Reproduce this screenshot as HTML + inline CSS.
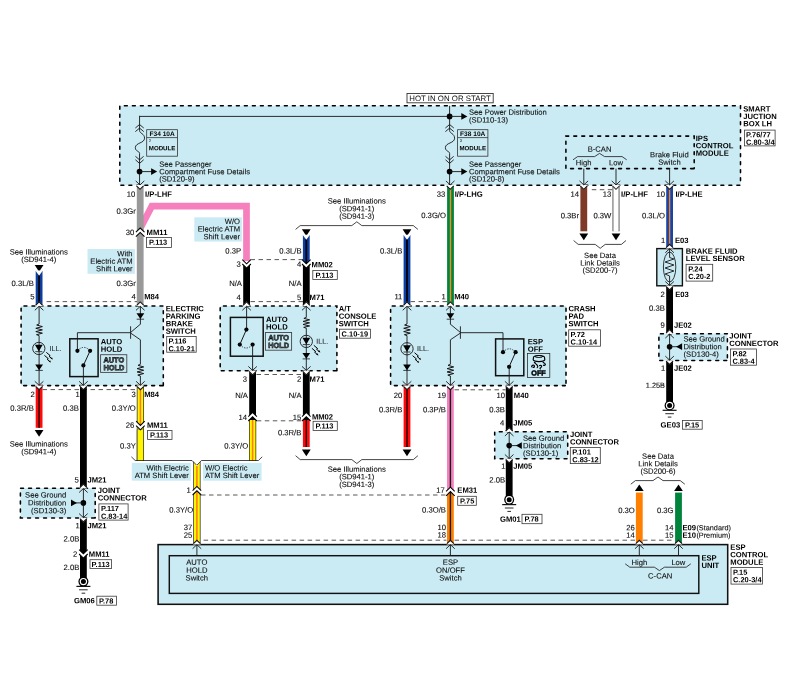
<!DOCTYPE html>
<html lang="en">
<head>
<meta charset="utf-8">
<title>ESP / Auto Hold Wiring Diagram</title>
<style>
html,body{margin:0;padding:0;background:#fff;}
body{width:789px;height:699px;overflow:hidden;}
svg{display:block;font-family:"Liberation Sans",sans-serif;font-size:7.65px;fill:#0c0c0c;will-change:transform;}
text{stroke:#111;stroke-width:.1px;}
text[font-weight]{stroke:none;}
</style>
</head>
<body>
<svg width="789" height="699" viewBox="0 0 789 699">
<rect width="789" height="699" fill="#fff"/>
<rect x="119.8" y="105.8" width="620.7" height="79.4" fill="#cbebf4"/>
<path d="M740.5 185.2H119.8V105.8H740.5Z" fill="none" stroke="#000" stroke-width="1.55" stroke-linecap="round" stroke-dasharray="2.9 5.1" stroke-dashoffset="-0.7"/>
<rect x="407" y="93.5" width="86.2" height="9.3" fill="#fff" stroke="#333" stroke-width="0.9"/>
<text x="450" y="101" transform="rotate(.03 450 101)" text-anchor="middle" font-size="7.85" style="stroke:none">HOT IN ON OR START</text>
<line x1="139.55" y1="116.4" x2="449.6" y2="116.4" stroke="#161616" stroke-width="0.9" />
<line x1="139.55" y1="115.8" x2="139.55" y2="128" stroke="#161616" stroke-width="0.9" />
<line x1="449.6" y1="105.8" x2="449.6" y2="128" stroke="#161616" stroke-width="0.9" />
<polyline points="135.35,128 139.55,124.5 143.75,128" fill="none" stroke="#161616" stroke-width="0.9" />
<polyline points="135.35,131.6 139.55,128.1 143.75,131.6" fill="none" stroke="#161616" stroke-width="0.9" />
<path d="M139.55 127.9 L139.55 130.6 C139.55 133.4 144.55 133.6 144.55 138.2 C144.55 143.4 135.35 142.6 135.35 147.6 C135.35 151.6 139.55 151 139.55 153.4 L139.55 185" fill="none" stroke="#161616" stroke-width="0.9"/>
<polyline points="135.45,156.3 139.55,159.9 143.65,156.3" fill="none" stroke="#161616" stroke-width="0.9" />
<polyline points="135.45,159.8 139.55,163.4 143.65,159.8" fill="none" stroke="#161616" stroke-width="0.9" />
<polyline points="445.4,128 449.6,124.5 453.8,128" fill="none" stroke="#161616" stroke-width="0.9" />
<polyline points="445.4,131.6 449.6,128.1 453.8,131.6" fill="none" stroke="#161616" stroke-width="0.9" />
<path d="M449.6 127.9 L449.6 130.6 C449.6 133.4 454.6 133.6 454.6 138.2 C454.6 143.4 445.4 142.6 445.4 147.6 C445.4 151.6 449.6 151 449.6 153.4 L449.6 185" fill="none" stroke="#161616" stroke-width="0.9"/>
<polyline points="445.5,156.3 449.6,159.9 453.7,156.3" fill="none" stroke="#161616" stroke-width="0.9" />
<polyline points="445.5,159.8 449.6,163.4 453.7,159.8" fill="none" stroke="#161616" stroke-width="0.9" />
<rect x="146.7" y="129.7" width="30.8" height="26.5" fill="#cbebf4" stroke="#333" stroke-width="0.8"/>
<line x1="146.7" y1="137.6" x2="177.5" y2="137.6" stroke="#333" stroke-width="0.8" />
<text x="162.1" y="136.1" transform="rotate(.03 162.1 136.1)" text-anchor="middle" font-weight="700" font-size="6.6" fill="#000">F34 10A</text>
<text x="149.1" y="141.8" transform="rotate(.03 149.1 141.8)" font-size="3.4">2</text>
<text x="162.1" y="150.3" transform="rotate(.03 162.1 150.3)" text-anchor="middle" font-weight="700" font-size="6.15" fill="#000">MODULE</text>
<rect x="457.6" y="129.7" width="30.3" height="26.5" fill="#cbebf4" stroke="#333" stroke-width="0.8"/>
<line x1="457.6" y1="137.6" x2="487.9" y2="137.6" stroke="#333" stroke-width="0.8" />
<text x="472.75" y="136.1" transform="rotate(.03 472.75 136.1)" text-anchor="middle" font-weight="700" font-size="6.6" fill="#000">F38 10A</text>
<text x="460" y="141.8" transform="rotate(.03 460 141.8)" font-size="3.4">3</text>
<text x="472.75" y="150.3" transform="rotate(.03 472.75 150.3)" text-anchor="middle" font-weight="700" font-size="6.15" fill="#000">MODULE</text>
<circle cx="449.6" cy="116.4" r="2.85" fill="#000"/>
<line x1="449.6" y1="116.4" x2="462" y2="116.4" stroke="#161616" stroke-width="0.9" />
<polygon points="461.3,113 461.3,119.8 467.4,116.4" fill="#000" stroke="none" stroke-width="0"/>
<text x="469" y="114.8" transform="rotate(.03 469 114.8)">See Power Distribution</text>
<text x="469" y="122.4" transform="rotate(.03 469 122.4)">(SD110-13)</text>
<circle cx="139.55" cy="171.6" r="2.85" fill="#000"/>
<line x1="139.55" y1="171.6" x2="152" y2="171.6" stroke="#161616" stroke-width="0.9" />
<polygon points="151.1,168.2 151.1,175 157.2,171.6" fill="#000" stroke="none" stroke-width="0"/>
<text x="159.2" y="166.8" transform="rotate(.03 159.2 166.8)">See Passenger</text>
<text x="159.2" y="174.2" transform="rotate(.03 159.2 174.2)">Compartment Fuse Details</text>
<text x="159.2" y="181.6" transform="rotate(.03 159.2 181.6)">(SD120-9)</text>
<circle cx="449.6" cy="171.6" r="2.85" fill="#000"/>
<line x1="449.6" y1="171.6" x2="462" y2="171.6" stroke="#161616" stroke-width="0.9" />
<polygon points="461.3,168.2 461.3,175 467.4,171.6" fill="#000" stroke="none" stroke-width="0"/>
<text x="469" y="166.8" transform="rotate(.03 469 166.8)">See Passenger</text>
<text x="469" y="174.2" transform="rotate(.03 469 174.2)">Compartment Fuse Details</text>
<text x="469" y="181.6" transform="rotate(.03 469 181.6)">(SD120-8)</text>
<path d="M694.2 168.6H565.9V136.1H694.2Z" fill="none" stroke="#000" stroke-width="1.55" stroke-linecap="round" stroke-dasharray="2.9 5.1" stroke-dashoffset="-0.7"/>
<text x="599.6" y="151.8" transform="rotate(.03 599.6 151.8)" text-anchor="middle">B-CAN</text>
<polyline points="573,159.8 577.6,156.6 594.6,156.6 599.6,153.4 604.6,156.6 622.1,156.6 626.7,159.8" fill="none" stroke="#161616" stroke-width="0.8" />
<text x="583.7" y="165.2" transform="rotate(.03 583.7 165.2)" text-anchor="middle">High</text>
<text x="616" y="165.2" transform="rotate(.03 616 165.2)" text-anchor="middle">Low</text>
<text x="669.4" y="157.2" transform="rotate(.03 669.4 157.2)" text-anchor="middle">Brake Fluid</text>
<text x="669.4" y="164.8" transform="rotate(.03 669.4 164.8)" text-anchor="middle">Switch</text>
<line x1="583.8" y1="168.6" x2="583.8" y2="185" stroke="#161616" stroke-width="0.9" />
<line x1="616" y1="168.6" x2="616" y2="185" stroke="#161616" stroke-width="0.9" />
<line x1="669.6" y1="168.6" x2="669.6" y2="185" stroke="#161616" stroke-width="0.9" />
<text x="695.7" y="140.9" transform="rotate(.03 695.7 140.9)" font-weight="700" fill="#000">IPS</text>
<text x="695.7" y="148.3" transform="rotate(.03 695.7 148.3)" font-weight="700" fill="#000">CONTROL</text>
<text x="695.7" y="155.7" transform="rotate(.03 695.7 155.7)" font-weight="700" fill="#000">MODULE</text>
<text x="743.2" y="111.5" transform="rotate(.03 743.2 111.5)" font-weight="700" fill="#000">SMART</text>
<text x="743.2" y="118.9" transform="rotate(.03 743.2 118.9)" font-weight="700" fill="#000">JUCTION</text>
<text x="743.2" y="126.3" transform="rotate(.03 743.2 126.3)" font-weight="700" fill="#000">BOX LH</text>
<rect x="744.4" y="130.1" width="30.7" height="15.8" fill="#fff" stroke="#3a3a3a" stroke-width="0.8"/>
<text x="746" y="137.3" transform="rotate(.03 746 137.3)" font-weight="700" font-size="7.45" fill="#000">P.76/77</text>
<text x="746" y="144.85" transform="rotate(.03 746 144.85)" font-weight="700" font-size="7.45" fill="#000">C.80-3/4</text>
<polyline points="140.2,228.5 151.8,206.1 246.5,206.1 246.5,261" fill="none" stroke="#f580bd" stroke-width="6.7" stroke-linejoin="miter"/>
<rect x="136.8" y="185.2" width="6.8" height="120.8" fill="#999999"/>
<rect x="447.1" y="185.2" width="6.8" height="120.8" fill="#00843c"/>
<rect x="449.8" y="185.2" width="1.4" height="120.8" fill="#f58a1f"/>
<rect x="580.4" y="185.2" width="6.8" height="46.1" fill="#7e3a27"/>
<rect x="612.5" y="185.2" width="7" height="46.1" fill="#4c4c4c"/>
<rect x="613.4" y="184.7" width="5.2" height="47.1" fill="#ffffff"/>
<rect x="666.2" y="185.2" width="6.8" height="63.2" fill="#1746a8"/>
<rect x="668.9" y="185.2" width="1.4" height="63.2" fill="#f5821f"/>
<line x1="591.8" y1="189.7" x2="612.8" y2="189.7" stroke="#3a3a3a" stroke-width="0.85" stroke-dasharray="4.5 3.5"/>
<text x="135.2" y="196.8" transform="rotate(.03 135.2 196.8)" text-anchor="end" font-size="7.7">10</text>
<text x="145.1" y="196.8" transform="rotate(.03 145.1 196.8)" font-weight="700" fill="#000">I/P-LHF</text>
<text x="135.8" y="213.7" transform="rotate(.03 135.8 213.7)" text-anchor="end" font-size="7.7">0.3Gr</text>
<text x="134.4" y="235" transform="rotate(.03 134.4 235)" text-anchor="end" font-size="7.7">30</text>
<text x="146.6" y="235" transform="rotate(.03 146.6 235)" font-weight="700" fill="#000">MM11</text>
<rect x="146.4" y="237.5" width="25" height="10" fill="#fff" stroke="#3a3a3a" stroke-width="0.8"/>
<text x="149.1" y="244.7" transform="rotate(.03 149.1 244.7)" font-weight="700" font-size="7.45" fill="#000">P.113</text>
<rect x="194.3" y="217.3" width="47.6" height="24.3" fill="#cbebf4"/>
<text x="240" y="224.1" transform="rotate(.03 240 224.1)" text-anchor="end">W/O</text>
<text x="240" y="231.6" transform="rotate(.03 240 231.6)" text-anchor="end">Electric ATM</text>
<text x="240" y="239.2" transform="rotate(.03 240 239.2)" text-anchor="end">Shift Lever</text>
<text x="241.2" y="253.4" transform="rotate(.03 241.2 253.4)" text-anchor="end" font-size="7.7">0.3P</text>
<text x="445.4" y="196.8" transform="rotate(.03 445.4 196.8)" text-anchor="end" font-size="7.7">33</text>
<text x="454.7" y="196.8" transform="rotate(.03 454.7 196.8)" font-weight="700" fill="#000">I/P-LHG</text>
<text x="446" y="218" transform="rotate(.03 446 218)" text-anchor="end" font-size="7.7">0.3G/O</text>
<text x="579" y="196.7" transform="rotate(.03 579 196.7)" text-anchor="end" font-size="7.7">14</text>
<text x="611.4" y="196.7" transform="rotate(.03 611.4 196.7)" text-anchor="end" font-size="7.7">13</text>
<text x="621.1" y="196.7" transform="rotate(.03 621.1 196.7)" font-weight="700" fill="#000">I/P-LHF</text>
<text x="665" y="196.7" transform="rotate(.03 665 196.7)" text-anchor="end" font-size="7.7">10</text>
<text x="675.4" y="196.7" transform="rotate(.03 675.4 196.7)" font-weight="700" fill="#000">I/P-LHE</text>
<text x="579" y="218.2" transform="rotate(.03 579 218.2)" text-anchor="end" font-size="7.7">0.3Br</text>
<text x="611.4" y="218.2" transform="rotate(.03 611.4 218.2)" text-anchor="end" font-size="7.7">0.3W</text>
<text x="665" y="218.2" transform="rotate(.03 665 218.2)" text-anchor="end" font-size="7.7">0.3L/O</text>
<polygon points="579.4,233.6 588.2,233.6 583.8,240.3" fill="#000" stroke="none" stroke-width="0"/>
<polygon points="611.6,233.6 620.4,233.6 616,240.3" fill="#000" stroke="none" stroke-width="0"/>
<polyline points="573.6,240.5 578.2,244.4 595.2,244.4 600.2,248.3 605.2,244.4 621.4,244.4 626,240.5" fill="none" stroke="#161616" stroke-width="0.8" />
<text x="600" y="258" transform="rotate(.03 600 258)" text-anchor="middle">See Data</text>
<text x="600" y="265.4" transform="rotate(.03 600 265.4)" text-anchor="middle">Link Details</text>
<text x="600" y="272.8" transform="rotate(.03 600 272.8)" text-anchor="middle">(SD200-7)</text>
<text x="38.8" y="254.6" transform="rotate(.03 38.8 254.6)" text-anchor="middle">See Illuminations</text>
<text x="38.8" y="262.1" transform="rotate(.03 38.8 262.1)" text-anchor="middle">(SD941-4)</text>
<polygon points="34.7,265.1 43.5,265.1 39.1,271.8" fill="#000" stroke="none" stroke-width="0"/>
<rect x="35.7" y="270.9" width="6.8" height="35.1" fill="#0d3fa3"/>
<rect x="38.15" y="270.9" width="1.9" height="35.1" fill="#03050f"/>
<text x="356.8" y="203.6" transform="rotate(.03 356.8 203.6)" text-anchor="middle">See Illuminations</text>
<text x="356.8" y="211.2" transform="rotate(.03 356.8 211.2)" text-anchor="middle">(SD941-1)</text>
<text x="356.8" y="218.8" transform="rotate(.03 356.8 218.8)" text-anchor="middle">(SD941-3)</text>
<polyline points="295.6,229.4 300.2,225.6 351.8,225.6 356.8,221.8 361.8,225.6 413.3,225.6 417.9,229.4" fill="none" stroke="#161616" stroke-width="0.8" />
<polygon points="301.9,229.2 310.7,229.2 306.3,235.9" fill="#000" stroke="none" stroke-width="0"/>
<rect x="302.9" y="235" width="6.8" height="29" fill="#0d3fa3"/>
<rect x="305.35" y="235" width="1.9" height="29" fill="#03050f"/>
<polygon points="402.6,229.2 411.4,229.2 407,235.9" fill="#000" stroke="none" stroke-width="0"/>
<rect x="403.6" y="235" width="6.8" height="71" fill="#0d3fa3"/>
<rect x="406.05" y="235" width="1.9" height="71" fill="#03050f"/>
<text x="33.8" y="286.1" transform="rotate(.03 33.8 286.1)" text-anchor="end" font-size="7.7">0.3L/B</text>
<text x="301.6" y="253.6" transform="rotate(.03 301.6 253.6)" text-anchor="end" font-size="7.7">0.3L/B</text>
<text x="402.3" y="253.6" transform="rotate(.03 402.3 253.6)" text-anchor="end" font-size="7.7">0.3L/B</text>
<rect x="87.5" y="249" width="47.4" height="24.8" fill="#cbebf4"/>
<text x="132.6" y="256.3" transform="rotate(.03 132.6 256.3)" text-anchor="end">With</text>
<text x="132.6" y="263.8" transform="rotate(.03 132.6 263.8)" text-anchor="end">Electric ATM</text>
<text x="132.6" y="271.3" transform="rotate(.03 132.6 271.3)" text-anchor="end">Shift Lever</text>
<text x="135.8" y="286.1" transform="rotate(.03 135.8 286.1)" text-anchor="end" font-size="7.7">0.3Gr</text>
<line x1="46.6" y1="301.6" x2="137" y2="301.6" stroke="#3a3a3a" stroke-width="0.85" stroke-dasharray="4.5 3.5"/>
<rect x="21.1" y="306" width="142.2" height="79.6" fill="#cbebf4"/>
<path d="M163.3 385.6H21.1V306H163.3Z" fill="none" stroke="#000" stroke-width="1.55" stroke-linecap="round" stroke-dasharray="2.9 5.1" stroke-dashoffset="-0.7"/>
<text x="34.6" y="299.2" transform="rotate(.03 34.6 299.2)" text-anchor="end" font-size="7.7">5</text>
<text x="135.8" y="299.2" transform="rotate(.03 135.8 299.2)" text-anchor="end" font-size="7.7">4</text>
<text x="144.2" y="299.2" transform="rotate(.03 144.2 299.2)" font-weight="700" fill="#000">M84</text>
<line x1="39.1" y1="306" x2="39.1" y2="385.6" stroke="#161616" stroke-width="0.9" />
<rect x="35.5" y="324" width="7.2" height="11.6" fill="#cbebf4"/>
<polyline points="39.1,324 36.7,325.03 42.4,326.62 35.8,328.3 42.4,329.89 35.8,331.58 42.4,333.17 36.5,334.66 39.1,335.6" fill="none" stroke="#161616" stroke-width="1.0" stroke-linejoin="miter"/>
<circle cx="38.8" cy="348.45" r="6.15" fill="none" stroke="#161616" stroke-width="0.9"/>
<polygon points="34.9,344.85 42.7,344.85 38.8,351.55" fill="#000" stroke="none" stroke-width="0"/>
<line x1="35.3" y1="351.65" x2="42.3" y2="351.65" stroke="#161616" stroke-width="0.8" />
<polyline points="46.3,352.35 50.2,355.65 49,356.25 51.5,358.35" fill="none" stroke="#000" stroke-width="1.0" />
<polygon points="52.9,359.55 50.5,358.75 52,357.35" fill="#000" stroke="none" stroke-width="0"/>
<polyline points="44.4,355.35 48.3,358.65 47.1,359.25 49.6,361.35" fill="none" stroke="#000" stroke-width="1.0" />
<polygon points="51,362.55 48.6,361.75 50.1,360.35" fill="#000" stroke="none" stroke-width="0"/>
<text x="49.5" y="350.9" transform="rotate(.03 49.5 350.9)" font-size="7.2" fill="#30383c">ILL.</text>
<polygon points="35.2,364.5 43,364.5 39.1,370.2" fill="#000" stroke="none" stroke-width="0"/>
<line x1="35.4" y1="370.4" x2="42.8" y2="370.4" stroke="#161616" stroke-width="0.8" />
<line x1="140.4" y1="306" x2="140.4" y2="324.4" stroke="#161616" stroke-width="0.9" />
<polygon points="136.5,313.3 144.3,313.3 140.4,319" fill="#000" stroke="none" stroke-width="0"/>
<line x1="136.7" y1="319.2" x2="144.1" y2="319.2" stroke="#161616" stroke-width="0.8" />
<polyline points="140.4,324.2 130.8,332.3" fill="none" stroke="#161616" stroke-width="0.9" />
<line x1="130.6" y1="326.3" x2="130.6" y2="338.8" stroke="#161616" stroke-width="0.9" />
<polyline points="130.8,333.2 140.4,339.8 140.4,385.6" fill="none" stroke="#161616" stroke-width="0.9" />
<rect x="136.8" y="364.3" width="7.2" height="11.7" fill="#cbebf4"/>
<polyline points="140.4,364.3 138,365.34 143.7,366.94 137.1,368.64 143.7,370.24 137.1,371.94 143.7,373.55 137.8,375.06 140.4,376" fill="none" stroke="#161616" stroke-width="1.0" stroke-linejoin="miter"/>
<rect x="69.8" y="338.8" width="28.3" height="37.8" fill="none" stroke="#111" stroke-width="1.5"/>
<polyline points="130.6,332.7 77.4,332.7 77.4,350.8" fill="none" stroke="#161616" stroke-width="0.9" />
<circle cx="77.4" cy="350.8" r="2.1" fill="#000"/>
<circle cx="90.1" cy="350.8" r="2.1" fill="#000"/>
<circle cx="83.4" cy="365.4" r="2.1" fill="#000"/>
<path d="M77.4 350.8 Q83.7 344 90.1 350.8" fill="none" stroke="#111" stroke-width="0.8" stroke-dasharray="1.4 1.2"/>
<line x1="83.4" y1="365.4" x2="90.1" y2="350.8" stroke="#161616" stroke-width="1" />
<line x1="83.4" y1="365.4" x2="83.4" y2="385.6" stroke="#161616" stroke-width="0.9" />
<text x="100.7" y="344.3" transform="rotate(.03 100.7 344.3)" font-weight="700" fill="#000">AUTO</text>
<text x="100.7" y="351.8" transform="rotate(.03 100.7 351.8)" font-weight="700" fill="#000">HOLD</text>
<rect x="100.6" y="354.7" width="26.2" height="17.7" fill="#cbebf4" stroke="#444" stroke-width="0.9"/>
<text x="113.8" y="362.4" transform="rotate(.03 113.8 362.4)" text-anchor="middle" font-weight="700" font-size="7.6" style="fill:#7d8a8e;stroke:#0a0a0a;stroke-width:.62px" textLength="20.8" lengthAdjust="spacingAndGlyphs">AUTO</text>
<text x="113.8" y="370.3" transform="rotate(.03 113.8 370.3)" text-anchor="middle" font-weight="700" font-size="7.6" style="fill:#7d8a8e;stroke:#0a0a0a;stroke-width:.62px" textLength="20.8" lengthAdjust="spacingAndGlyphs">HOLD</text>
<text x="165.7" y="311.2" transform="rotate(.03 165.7 311.2)" font-weight="700" fill="#000">ELECTRIC</text>
<text x="165.7" y="318.7" transform="rotate(.03 165.7 318.7)" font-weight="700" fill="#000">PARKING</text>
<text x="165.7" y="326.2" transform="rotate(.03 165.7 326.2)" font-weight="700" fill="#000">BRAKE</text>
<text x="165.7" y="333.7" transform="rotate(.03 165.7 333.7)" font-weight="700" fill="#000">SWITCH</text>
<rect x="166.7" y="336.4" width="29.5" height="15.8" fill="#fff" stroke="#3a3a3a" stroke-width="0.8"/>
<text x="168.4" y="343.6" transform="rotate(.03 168.4 343.6)" font-weight="700" font-size="7.45" fill="#000">P.116</text>
<text x="168.4" y="351.15" transform="rotate(.03 168.4 351.15)" font-weight="700" font-size="7.45" fill="#000">C.10-21</text>
<line x1="42.5" y1="389.6" x2="137" y2="389.6" stroke="#3a3a3a" stroke-width="0.85" stroke-dasharray="4.5 3.5"/>
<rect x="35.7" y="385.6" width="6.8" height="42.2" fill="#ff0a0a"/>
<rect x="38.4" y="385.6" width="1.4" height="42.2" fill="#1a0000"/>
<rect x="80" y="385.6" width="6.8" height="195" fill="#000000"/>
<rect x="136.8" y="385.6" width="7.2" height="75.4" fill="#15152a"/>
<rect x="137.45" y="385.6" width="5.9" height="75.4" fill="#fff500"/>
<rect x="139.65" y="385.6" width="1.5" height="75.4" fill="#ff7a10"/>
<text x="34.8" y="397" transform="rotate(.03 34.8 397)" text-anchor="end" font-size="7.7">2</text>
<text x="79.7" y="397" transform="rotate(.03 79.7 397)" text-anchor="end" font-size="7.7">1</text>
<text x="135.8" y="397" transform="rotate(.03 135.8 397)" text-anchor="end" font-size="7.7">3</text>
<text x="144.2" y="397" transform="rotate(.03 144.2 397)" font-weight="700" fill="#000">M84</text>
<text x="33.8" y="410.8" transform="rotate(.03 33.8 410.8)" text-anchor="end" font-size="7.7">0.3R/B</text>
<text x="78.8" y="410.8" transform="rotate(.03 78.8 410.8)" text-anchor="end" font-size="7.7">0.3B</text>
<text x="135.8" y="410.8" transform="rotate(.03 135.8 410.8)" text-anchor="end" font-size="7.7">0.3Y/O</text>
<polygon points="34.7,430 43.5,430 39.1,436.7" fill="#000" stroke="none" stroke-width="0"/>
<text x="38.8" y="446.6" transform="rotate(.03 38.8 446.6)" text-anchor="middle">See Illuminations</text>
<text x="38.8" y="454.2" transform="rotate(.03 38.8 454.2)" text-anchor="middle">(SD941-4)</text>
<rect x="136.8" y="429.5" width="7.2" height="31.5" fill="#15152a"/>
<rect x="137.45" y="429.5" width="5.9" height="31.5" fill="#fff500"/>
<text x="134.4" y="427.8" transform="rotate(.03 134.4 427.8)" text-anchor="end" font-size="7.7">26</text>
<text x="147" y="427.8" transform="rotate(.03 147 427.8)" font-weight="700" fill="#000">MM11</text>
<rect x="147.6" y="430.4" width="24.4" height="9" fill="#fff" stroke="#3a3a3a" stroke-width="0.8"/>
<text x="150" y="437.6" transform="rotate(.03 150 437.6)" font-weight="700" font-size="7.45" fill="#000">P.113</text>
<text x="135.8" y="448.4" transform="rotate(.03 135.8 448.4)" text-anchor="end" font-size="7.7">0.3Y</text>
<line x1="250.5" y1="259.6" x2="303" y2="259.6" stroke="#3a3a3a" stroke-width="0.85" stroke-dasharray="4.5 3.5"/>
<rect x="243.2" y="264" width="6.8" height="42" fill="#000000"/>
<rect x="302.9" y="264" width="6.8" height="42" fill="#000000"/>
<text x="240.8" y="266.7" transform="rotate(.03 240.8 266.7)" text-anchor="end" font-size="7.7">3</text>
<text x="301.2" y="266.7" transform="rotate(.03 301.2 266.7)" text-anchor="end" font-size="7.7">4</text>
<text x="311.6" y="267.2" transform="rotate(.03 311.6 267.2)" font-weight="700" fill="#000">MM02</text>
<rect x="312.8" y="270.5" width="24.5" height="8.9" fill="#fff" stroke="#3a3a3a" stroke-width="0.8"/>
<text x="315.4" y="277.7" transform="rotate(.03 315.4 277.7)" font-weight="700" font-size="7.45" fill="#000">P.113</text>
<text x="242" y="285.9" transform="rotate(.03 242 285.9)" text-anchor="end" font-size="7.7">N/A</text>
<text x="301.6" y="285.9" transform="rotate(.03 301.6 285.9)" text-anchor="end" font-size="7.7">N/A</text>
<text x="240.8" y="300.1" transform="rotate(.03 240.8 300.1)" text-anchor="end" font-size="7.7">4</text>
<text x="301.2" y="300.1" transform="rotate(.03 301.2 300.1)" text-anchor="end" font-size="7.7">5</text>
<text x="309.6" y="300.1" transform="rotate(.03 309.6 300.1)" font-weight="700" fill="#000">M71</text>
<line x1="250.5" y1="301.6" x2="303" y2="301.6" stroke="#3a3a3a" stroke-width="0.85" stroke-dasharray="4.5 3.5"/>
<rect x="220.2" y="306" width="116.7" height="64.7" fill="#cbebf4"/>
<path d="M336.9 370.7H220.2V306H336.9Z" fill="none" stroke="#000" stroke-width="1.55" stroke-linecap="round" stroke-dasharray="2.9 5.1" stroke-dashoffset="-0.7"/>
<rect x="230.4" y="317.4" width="32.8" height="38.8" fill="none" stroke="#111" stroke-width="1.5"/>
<line x1="246.6" y1="306" x2="246.6" y2="329.6" stroke="#161616" stroke-width="0.9" />
<circle cx="246.4" cy="329.6" r="2.1" fill="#000"/>
<circle cx="239.8" cy="344.6" r="2.1" fill="#000"/>
<circle cx="252.6" cy="344.6" r="2.1" fill="#000"/>
<line x1="246.4" y1="329.6" x2="239.8" y2="344.6" stroke="#161616" stroke-width="1" />
<path d="M239.8 344.6 Q246.2 351.4 252.6 344.6" fill="none" stroke="#111" stroke-width="0.8" stroke-dasharray="1.4 1.2"/>
<line x1="252.6" y1="344.6" x2="252.6" y2="370.7" stroke="#161616" stroke-width="0.9" />
<text x="266.1" y="322" transform="rotate(.03 266.1 322)" font-weight="700" fill="#000">AUTO</text>
<text x="266.1" y="329.5" transform="rotate(.03 266.1 329.5)" font-weight="700" fill="#000">HOLD</text>
<rect x="265.4" y="332.5" width="26.2" height="17.7" fill="#cbebf4" stroke="#444" stroke-width="0.9"/>
<text x="278.6" y="340.2" transform="rotate(.03 278.6 340.2)" text-anchor="middle" font-weight="700" font-size="7.6" style="fill:#7d8a8e;stroke:#0a0a0a;stroke-width:.62px" textLength="20.8" lengthAdjust="spacingAndGlyphs">AUTO</text>
<text x="278.6" y="348.1" transform="rotate(.03 278.6 348.1)" text-anchor="middle" font-weight="700" font-size="7.6" style="fill:#7d8a8e;stroke:#0a0a0a;stroke-width:.62px" textLength="20.8" lengthAdjust="spacingAndGlyphs">HOLD</text>
<line x1="306.3" y1="306" x2="306.3" y2="370.7" stroke="#161616" stroke-width="0.9" />
<rect x="302.7" y="317.4" width="7.2" height="10.8" fill="#cbebf4"/>
<polyline points="306.3,317.4 303.9,318.36 309.6,319.84 303,321.41 309.6,322.89 303,324.45 309.6,325.94 303.7,327.33 306.3,328.2" fill="none" stroke="#161616" stroke-width="1.0" stroke-linejoin="miter"/>
<circle cx="306.3" cy="341.4" r="6.15" fill="none" stroke="#161616" stroke-width="0.9"/>
<polygon points="302.4,337.8 310.2,337.8 306.3,344.5" fill="#000" stroke="none" stroke-width="0"/>
<line x1="302.8" y1="344.6" x2="309.8" y2="344.6" stroke="#161616" stroke-width="0.8" />
<polyline points="313.8,345.3 317.7,348.6 316.5,349.2 319,351.3" fill="none" stroke="#000" stroke-width="1.0" />
<polygon points="320.4,352.5 318,351.7 319.5,350.3" fill="#000" stroke="none" stroke-width="0"/>
<polyline points="311.9,348.3 315.8,351.6 314.6,352.2 317.1,354.3" fill="none" stroke="#000" stroke-width="1.0" />
<polygon points="318.5,355.5 316.1,354.7 317.6,353.3" fill="#000" stroke="none" stroke-width="0"/>
<text x="316.2" y="343.7" transform="rotate(.03 316.2 343.7)" font-size="7.2" fill="#30383c">ILL.</text>
<polygon points="302.4,353 310.2,353 306.3,358.7" fill="#000" stroke="none" stroke-width="0"/>
<line x1="302.6" y1="358.9" x2="310" y2="358.9" stroke="#161616" stroke-width="0.8" />
<text x="338.7" y="311.2" transform="rotate(.03 338.7 311.2)" font-weight="700" fill="#000">A/T</text>
<text x="338.7" y="318.8" transform="rotate(.03 338.7 318.8)" font-weight="700" fill="#000">CONSOLE</text>
<text x="338.7" y="326.3" transform="rotate(.03 338.7 326.3)" font-weight="700" fill="#000">SWITCH</text>
<rect x="339.4" y="329.2" width="31" height="9" fill="#fff" stroke="#3a3a3a" stroke-width="0.8"/>
<text x="341.6" y="336.4" transform="rotate(.03 341.6 336.4)" font-weight="700" font-size="7.45" fill="#000">C.10-19</text>
<line x1="256.5" y1="374.5" x2="303" y2="374.5" stroke="#3a3a3a" stroke-width="0.85" stroke-dasharray="4.5 3.5"/>
<rect x="249.2" y="370.7" width="6.8" height="49.9" fill="#000000"/>
<rect x="302.9" y="370.7" width="6.8" height="49.9" fill="#000000"/>
<text x="247" y="381.7" transform="rotate(.03 247 381.7)" text-anchor="end" font-size="7.7">3</text>
<text x="301.2" y="381.7" transform="rotate(.03 301.2 381.7)" text-anchor="end" font-size="7.7">2</text>
<text x="309.6" y="381.7" transform="rotate(.03 309.6 381.7)" font-weight="700" fill="#000">M71</text>
<text x="248" y="398" transform="rotate(.03 248 398)" text-anchor="end" font-size="7.7">N/A</text>
<text x="301.6" y="398" transform="rotate(.03 301.6 398)" text-anchor="end" font-size="7.7">N/A</text>
<line x1="256.8" y1="420.8" x2="303" y2="420.8" stroke="#3a3a3a" stroke-width="0.85" stroke-dasharray="4.5 3.5"/>
<rect x="249" y="420" width="7.2" height="41" fill="#15152a"/>
<rect x="249.65" y="420" width="5.9" height="41" fill="#fff500"/>
<rect x="251.85" y="420" width="1.5" height="41" fill="#ff7a10"/>
<rect x="302.9" y="420" width="6.8" height="27" fill="#ff0a0a"/>
<rect x="305.6" y="420" width="1.4" height="27" fill="#1a0000"/>
<text x="247" y="420" transform="rotate(.03 247 420)" text-anchor="end" font-size="7.7">14</text>
<text x="301.2" y="420" transform="rotate(.03 301.2 420)" text-anchor="end" font-size="7.7">15</text>
<text x="311.9" y="419.4" transform="rotate(.03 311.9 419.4)" font-weight="700" fill="#000">MM02</text>
<rect x="313.1" y="421.3" width="24.2" height="9.2" fill="#fff" stroke="#3a3a3a" stroke-width="0.8"/>
<text x="315.4" y="428.5" transform="rotate(.03 315.4 428.5)" font-weight="700" font-size="7.45" fill="#000">P.113</text>
<text x="248.2" y="448.4" transform="rotate(.03 248.2 448.4)" text-anchor="end" font-size="7.7">0.3Y/O</text>
<text x="301.4" y="435.2" transform="rotate(.03 301.4 435.2)" text-anchor="end" font-size="7.7">0.3R/B</text>
<polygon points="301.9,449.5 310.7,449.5 306.3,456.2" fill="#000" stroke="none" stroke-width="0"/>
<line x1="410.5" y1="301.6" x2="447" y2="301.6" stroke="#3a3a3a" stroke-width="0.85" stroke-dasharray="4.5 3.5"/>
<rect x="390.6" y="306" width="175.4" height="79.6" fill="#cbebf4"/>
<path d="M566 385.6H390.6V306H566Z" fill="none" stroke="#000" stroke-width="1.55" stroke-linecap="round" stroke-dasharray="2.9 5.1" stroke-dashoffset="-0.7"/>
<text x="402.4" y="299.2" transform="rotate(.03 402.4 299.2)" text-anchor="end" font-size="7.7">11</text>
<text x="445.7" y="299.2" transform="rotate(.03 445.7 299.2)" text-anchor="end" font-size="7.7">1</text>
<text x="454.2" y="299.2" transform="rotate(.03 454.2 299.2)" font-weight="700" fill="#000">M40</text>
<line x1="407" y1="306" x2="407" y2="385.6" stroke="#161616" stroke-width="0.9" />
<rect x="403.4" y="324" width="7.2" height="11.6" fill="#cbebf4"/>
<polyline points="407,324 404.6,325.03 410.3,326.62 403.7,328.3 410.3,329.89 403.7,331.58 410.3,333.17 404.4,334.66 407,335.6" fill="none" stroke="#161616" stroke-width="1.0" stroke-linejoin="miter"/>
<circle cx="407" cy="348.8" r="6.15" fill="none" stroke="#161616" stroke-width="0.9"/>
<polygon points="403.1,345.2 410.9,345.2 407,351.9" fill="#000" stroke="none" stroke-width="0"/>
<line x1="403.5" y1="352" x2="410.5" y2="352" stroke="#161616" stroke-width="0.8" />
<polyline points="414.5,352.7 418.4,356 417.2,356.6 419.7,358.7" fill="none" stroke="#000" stroke-width="1.0" />
<polygon points="421.1,359.9 418.7,359.1 420.2,357.7" fill="#000" stroke="none" stroke-width="0"/>
<polyline points="412.6,355.7 416.5,359 415.3,359.6 417.8,361.7" fill="none" stroke="#000" stroke-width="1.0" />
<polygon points="419.2,362.9 416.8,362.1 418.3,360.7" fill="#000" stroke="none" stroke-width="0"/>
<text x="416.9" y="351" transform="rotate(.03 416.9 351)" font-size="7.2" fill="#30383c">ILL.</text>
<polygon points="403.1,364.5 410.9,364.5 407,370.2" fill="#000" stroke="none" stroke-width="0"/>
<line x1="403.3" y1="370.4" x2="410.7" y2="370.4" stroke="#161616" stroke-width="0.8" />
<line x1="450.4" y1="306" x2="450.4" y2="324.4" stroke="#161616" stroke-width="0.9" />
<polygon points="446.5,313.3 454.3,313.3 450.4,319" fill="#000" stroke="none" stroke-width="0"/>
<line x1="446.7" y1="319.2" x2="454.1" y2="319.2" stroke="#161616" stroke-width="0.8" />
<polyline points="450.4,324.2 460.2,332.3" fill="none" stroke="#161616" stroke-width="0.9" />
<line x1="460.4" y1="326.3" x2="460.4" y2="338.8" stroke="#161616" stroke-width="0.9" />
<polyline points="460.2,333.2 450.4,339.8 450.4,385.6" fill="none" stroke="#161616" stroke-width="0.9" />
<rect x="446.79999999999995" y="364.3" width="7.2" height="11.7" fill="#cbebf4"/>
<polyline points="450.4,364.3 448,365.34 453.7,366.94 447.1,368.64 453.7,370.24 447.1,371.94 453.7,373.55 447.8,375.06 450.4,376" fill="none" stroke="#161616" stroke-width="1.0" stroke-linejoin="miter"/>
<rect x="495.6" y="338.9" width="28.2" height="36.8" fill="none" stroke="#111" stroke-width="1.5"/>
<polyline points="460.4,332.7 503,332.7 503,352.2" fill="none" stroke="#161616" stroke-width="0.9" />
<circle cx="503" cy="352.2" r="2.1" fill="#000"/>
<circle cx="515.6" cy="352.2" r="2.1" fill="#000"/>
<circle cx="509.1" cy="366.8" r="2.1" fill="#000"/>
<path d="M503 352.2 Q509.3 345.4 515.6 352.2" fill="none" stroke="#111" stroke-width="0.8" stroke-dasharray="1.4 1.2"/>
<line x1="509.1" y1="366.8" x2="515.6" y2="352.2" stroke="#161616" stroke-width="1" />
<line x1="509.2" y1="366.8" x2="509.2" y2="385.6" stroke="#161616" stroke-width="0.9" />
<text x="527.7" y="344.2" transform="rotate(.03 527.7 344.2)" font-weight="700" fill="#000">ESP</text>
<text x="527.7" y="351.7" transform="rotate(.03 527.7 351.7)" font-weight="700" fill="#000">OFF</text>
<rect x="527.5" y="353.4" width="22.3" height="24" fill="#cbebf4" stroke="#222" stroke-width="0.75"/>
<g fill="none" stroke="#000" stroke-width="1.15" stroke-linecap="round"><path d="M533.5 357.4 C533.3 354.9 544.7 354.9 544.5 357.4 L544.8 359.6 C544.6 362.2 533.4 362.2 533.2 359.6 Z"/><ellipse cx="539" cy="356.5" rx="4" ry="1.05" stroke-width="0.8"/><path d="M534.4 362.4 L536.2 364.2 C537.6 365.4 538.4 366.6 537.2 367.6 M531.6 366.8 C531.8 364.6 534.8 364.6 534.4 366.6 C534.2 367.6 533.2 367.8 533 367 M543.4 362.4 L544.6 363.4 C546.2 364.4 545 366 543.4 365.2 M539.6 365.6 C541.6 364.8 542.4 366.6 540.8 367.6 C540 368 539.6 368.6 540.4 369"/></g>
<polygon points="533.8,362 535.6,362 534.6,363.6" fill="#000" stroke="none" stroke-width="0"/>
<polygon points="542.4,362 544.2,362 543.4,363.6" fill="#000" stroke="none" stroke-width="0"/>
<text x="538.5" y="375.4" transform="rotate(.03 538.5 375.4)" text-anchor="middle" font-weight="700" font-size="7.3" style="fill:#000;stroke:#000;stroke-width:.45px">OFF</text>
<text x="568.4" y="311.2" transform="rotate(.03 568.4 311.2)" font-weight="700" fill="#000">CRASH</text>
<text x="568.4" y="318.8" transform="rotate(.03 568.4 318.8)" font-weight="700" fill="#000">PAD</text>
<text x="568.4" y="326.3" transform="rotate(.03 568.4 326.3)" font-weight="700" fill="#000">SWITCH</text>
<rect x="568.7" y="329.8" width="31.8" height="16.4" fill="#fff" stroke="#3a3a3a" stroke-width="0.8"/>
<text x="570.6" y="337" transform="rotate(.03 570.6 337)" font-weight="700" font-size="7.45" fill="#000">P.72</text>
<text x="570.6" y="344.55" transform="rotate(.03 570.6 344.55)" font-weight="700" font-size="7.45" fill="#000">C.10-14</text>
<line x1="454.5" y1="389.8" x2="505.5" y2="389.8" stroke="#3a3a3a" stroke-width="0.85" stroke-dasharray="4.5 3.5"/>
<rect x="403.6" y="385.6" width="6.8" height="61.4" fill="#ff0a0a"/>
<rect x="406.3" y="385.6" width="1.4" height="61.4" fill="#1a0000"/>
<rect x="447" y="385.6" width="6.8" height="105.4" fill="#f580bd"/>
<rect x="449.7" y="385.6" width="1.4" height="105.4" fill="#1a1a1a"/>
<rect x="505.8" y="385.6" width="6.8" height="113.2" fill="#000000"/>
<text x="402.4" y="398" transform="rotate(.03 402.4 398)" text-anchor="end" font-size="7.7">20</text>
<text x="446" y="398" transform="rotate(.03 446 398)" text-anchor="end" font-size="7.7">19</text>
<text x="505" y="398" transform="rotate(.03 505 398)" text-anchor="end" font-size="7.7">10</text>
<text x="513.8" y="398" transform="rotate(.03 513.8 398)" font-weight="700" fill="#000">M40</text>
<text x="402.4" y="412.2" transform="rotate(.03 402.4 412.2)" text-anchor="end" font-size="7.7">0.3R/B</text>
<text x="446" y="412.2" transform="rotate(.03 446 412.2)" text-anchor="end" font-size="7.7">0.3P/B</text>
<text x="505" y="412.2" transform="rotate(.03 505 412.2)" text-anchor="end" font-size="7.7">0.3B</text>
<polygon points="402.6,449.5 411.4,449.5 407,456.2" fill="#000" stroke="none" stroke-width="0"/>
<polyline points="295.6,455.7 300.2,459.6 351.8,459.6 356.8,463.5 361.8,459.6 413.3,459.6 417.9,455.7" fill="none" stroke="#161616" stroke-width="0.8" />
<text x="356.8" y="471.7" transform="rotate(.03 356.8 471.7)" text-anchor="middle">See Illuminations</text>
<text x="356.8" y="479.3" transform="rotate(.03 356.8 479.3)" text-anchor="middle">(SD941-1)</text>
<text x="356.8" y="486.9" transform="rotate(.03 356.8 486.9)" text-anchor="middle">(SD941-3)</text>
<line x1="201" y1="495" x2="446.5" y2="495" stroke="#3a3a3a" stroke-width="0.85" stroke-dasharray="4.5 3.5"/>
<rect x="447" y="491" width="6.8" height="53.5" fill="#ff7f00"/>
<rect x="449.7" y="491" width="1.4" height="53.5" fill="#1a1a1a"/>
<text x="444.8" y="492.8" transform="rotate(.03 444.8 492.8)" text-anchor="end" font-size="7.7">17</text>
<text x="457.3" y="492.8" transform="rotate(.03 457.3 492.8)" font-weight="700" fill="#000">EM31</text>
<rect x="457.7" y="496.3" width="18.6" height="9" fill="#fff" stroke="#3a3a3a" stroke-width="0.8"/>
<text x="460" y="503.5" transform="rotate(.03 460 503.5)" font-weight="700" font-size="7.45" fill="#000">P.75</text>
<text x="446" y="512.4" transform="rotate(.03 446 512.4)" text-anchor="end" font-size="7.7">0.3O/B</text>
<text x="446" y="530" transform="rotate(.03 446 530)" text-anchor="end" font-size="7.7">10</text>
<text x="446" y="537.6" transform="rotate(.03 446 537.6)" text-anchor="end" font-size="7.7">18</text>
<text x="504.2" y="425.6" transform="rotate(.03 504.2 425.6)" text-anchor="end" font-size="7.7">4</text>
<text x="513.2" y="425.6" transform="rotate(.03 513.2 425.6)" font-weight="700" fill="#000">JM05</text>
<rect x="494.7" y="431.7" width="73" height="27.1" fill="#cbebf4"/>
<path d="M567.7 458.8H494.7V431.7H567.7Z" fill="none" stroke="#000" stroke-width="1.55" stroke-linecap="round" stroke-dasharray="2.9 5.1" stroke-dashoffset="-0.7"/>
<line x1="509.2" y1="431.7" x2="509.2" y2="458.8" stroke="#161616" stroke-width="0.9" />
<circle cx="509.2" cy="445.6" r="2.8" fill="#000"/>
<line x1="509.2" y1="445.6" x2="518" y2="445.6" stroke="#161616" stroke-width="0.9" />
<polygon points="521.8,442.2 521.8,449 515.9,445.6" fill="#000" stroke="none" stroke-width="0"/>
<text x="523" y="440.7" transform="rotate(.03 523 440.7)">See Ground</text>
<text x="523" y="448.3" transform="rotate(.03 523 448.3)">Distribution</text>
<text x="523" y="455.8" transform="rotate(.03 523 455.8)">(SD130-1)</text>
<text x="569.9" y="437" transform="rotate(.03 569.9 437)" font-weight="700" fill="#000">JOINT</text>
<text x="569.9" y="444.4" transform="rotate(.03 569.9 444.4)" font-weight="700" fill="#000">CONNECTOR</text>
<rect x="570.3" y="447.4" width="30" height="16.2" fill="#fff" stroke="#3a3a3a" stroke-width="0.8"/>
<text x="572.3" y="454.6" transform="rotate(.03 572.3 454.6)" font-weight="700" font-size="7.45" fill="#000">P.101</text>
<text x="572.3" y="462.15" transform="rotate(.03 572.3 462.15)" font-weight="700" font-size="7.45" fill="#000">C.83-12</text>
<text x="505.5" y="468.8" transform="rotate(.03 505.5 468.8)" text-anchor="end" font-size="7.7">1</text>
<text x="513.2" y="468.8" transform="rotate(.03 513.2 468.8)" font-weight="700" fill="#000">JM05</text>
<text x="505.2" y="482.5" transform="rotate(.03 505.2 482.5)" text-anchor="end" font-size="7.7">2.0B</text>
<circle cx="509.2" cy="499.8" r="5" fill="#000"/>
<circle cx="509.2" cy="499.8" r="3.7" fill="#fff"/>
<circle cx="509.2" cy="499.8" r="2.5" fill="#000"/>
<line x1="502.2" y1="504.6" x2="516.2" y2="504.6" stroke="#111" stroke-width="1.2" />
<line x1="504.9" y1="508" x2="513.5" y2="508" stroke="#111" stroke-width="0.9" />
<line x1="507.4" y1="511.4" x2="511" y2="511.4" stroke="#111" stroke-width="0.9" />
<text x="500" y="521.8" transform="rotate(.03 500 521.8)" font-weight="700" fill="#000">GM01</text>
<rect x="522" y="514.3" width="20" height="9.4" fill="#fff" stroke="#3a3a3a" stroke-width="0.8"/>
<text x="524.4" y="521.5" transform="rotate(.03 524.4 521.5)" font-weight="700" font-size="7.45" fill="#000">P.78</text>
<text x="665.3" y="242.9" transform="rotate(.03 665.3 242.9)" text-anchor="end" font-size="7.7">1</text>
<text x="674.9" y="242.9" transform="rotate(.03 674.9 242.9)" font-weight="700" fill="#000">E03</text>
<rect x="656.8" y="248.6" width="25.6" height="37.2" fill="#cbebf4" stroke="#111" stroke-width="1.4"/>
<ellipse cx="669.6" cy="267" rx="6.2" ry="15" fill="none" stroke="#161616" stroke-width="0.85"/>
<polyline points="669.6,248.6 669.6,257.5 673.9,259 665.1,262 673.9,265 665.1,268 673.9,271 665.1,274 669.6,276 669.6,285.6" fill="none" stroke="#161616" stroke-width="0.9" />
<text x="685.8" y="253.7" transform="rotate(.03 685.8 253.7)" font-weight="700" fill="#000">BRAKE FLUID</text>
<text x="685.8" y="261.1" transform="rotate(.03 685.8 261.1)" font-weight="700" fill="#000">LEVEL SENSOR</text>
<rect x="686.1" y="264.3" width="26.6" height="16.8" fill="#fff" stroke="#3a3a3a" stroke-width="0.8"/>
<text x="688.2" y="271.5" transform="rotate(.03 688.2 271.5)" font-weight="700" font-size="7.45" fill="#000">P.24</text>
<text x="688.2" y="279.05" transform="rotate(.03 688.2 279.05)" font-weight="700" font-size="7.45" fill="#000">C.20-2</text>
<rect x="666.2" y="285.8" width="6.8" height="118.7" fill="#000000"/>
<text x="664.8" y="297" transform="rotate(.03 664.8 297)" text-anchor="end" font-size="7.7">2</text>
<text x="675.2" y="297" transform="rotate(.03 675.2 297)" font-weight="700" fill="#000">E03</text>
<text x="664.8" y="310.8" transform="rotate(.03 664.8 310.8)" text-anchor="end" font-size="7.7">0.3B</text>
<text x="664.8" y="327.7" transform="rotate(.03 664.8 327.7)" text-anchor="end" font-size="7.7">9</text>
<text x="674" y="327.7" transform="rotate(.03 674 327.7)" font-weight="700" fill="#000">JE02</text>
<rect x="658.9" y="333.8" width="68.5" height="26.6" fill="#cbebf4"/>
<path d="M727.4 360.4H658.9V333.8H727.4Z" fill="none" stroke="#000" stroke-width="1.55" stroke-linecap="round" stroke-dasharray="2.9 5.1" stroke-dashoffset="-0.7"/>
<line x1="669.6" y1="333.8" x2="669.6" y2="360.4" stroke="#161616" stroke-width="0.9" />
<circle cx="669.6" cy="346.7" r="2.8" fill="#000"/>
<line x1="669.6" y1="346.7" x2="678" y2="346.7" stroke="#161616" stroke-width="0.9" />
<polygon points="682.1,343.3 682.1,350.1 676.2,346.7" fill="#000" stroke="none" stroke-width="0"/>
<text x="683.5" y="341.6" transform="rotate(.03 683.5 341.6)">See Ground</text>
<text x="683.5" y="349.2" transform="rotate(.03 683.5 349.2)">Distribution</text>
<text x="683.5" y="356.7" transform="rotate(.03 683.5 356.7)">(SD130-4)</text>
<text x="729.3" y="338.6" transform="rotate(.03 729.3 338.6)" font-weight="700" fill="#000">JOINT</text>
<text x="729.3" y="346" transform="rotate(.03 729.3 346)" font-weight="700" fill="#000">CONNECTOR</text>
<rect x="730.4" y="349" width="26" height="16.2" fill="#fff" stroke="#3a3a3a" stroke-width="0.8"/>
<text x="732.4" y="356.2" transform="rotate(.03 732.4 356.2)" font-weight="700" font-size="7.45" fill="#000">P.82</text>
<text x="732.4" y="363.75" transform="rotate(.03 732.4 363.75)" font-weight="700" font-size="7.45" fill="#000">C.83-4</text>
<text x="665.3" y="370.7" transform="rotate(.03 665.3 370.7)" text-anchor="end" font-size="7.7">1</text>
<text x="674" y="370.7" transform="rotate(.03 674 370.7)" font-weight="700" fill="#000">JE02</text>
<text x="665" y="387.8" transform="rotate(.03 665 387.8)" text-anchor="end" font-size="7.35">1.25B</text>
<circle cx="669.6" cy="405.5" r="5" fill="#000"/>
<circle cx="669.6" cy="405.5" r="3.7" fill="#fff"/>
<circle cx="669.6" cy="405.5" r="2.5" fill="#000"/>
<line x1="662.6" y1="410.3" x2="676.6" y2="410.3" stroke="#111" stroke-width="1.2" />
<line x1="665.3" y1="413.7" x2="673.9" y2="413.7" stroke="#111" stroke-width="0.9" />
<line x1="667.8" y1="417.1" x2="671.4" y2="417.1" stroke="#111" stroke-width="0.9" />
<text x="660.6" y="427.4" transform="rotate(.03 660.6 427.4)" font-weight="700" fill="#000">GE03</text>
<rect x="682.6" y="420.4" width="19.6" height="8.8" fill="#fff" stroke="#3a3a3a" stroke-width="0.8"/>
<text x="684.9" y="427.6" transform="rotate(.03 684.9 427.6)" font-weight="700" font-size="7.45" fill="#000">P.15</text>
<text x="78.8" y="482.6" transform="rotate(.03 78.8 482.6)" text-anchor="end" font-size="7.7">5</text>
<text x="87.5" y="482.6" transform="rotate(.03 87.5 482.6)" font-weight="700" fill="#000">JM21</text>
<rect x="20.4" y="488.2" width="74.8" height="29.7" fill="#cbebf4"/>
<path d="M95.2 517.9H20.4V488.2H95.2Z" fill="none" stroke="#000" stroke-width="1.55" stroke-linecap="round" stroke-dasharray="2.9 5.1" stroke-dashoffset="-0.7"/>
<line x1="83.4" y1="488.2" x2="83.4" y2="517.9" stroke="#161616" stroke-width="0.9" />
<circle cx="83.4" cy="502.9" r="2.8" fill="#000"/>
<line x1="75" y1="502.9" x2="83.4" y2="502.9" stroke="#161616" stroke-width="0.9" />
<polygon points="71,499.5 71,506.3 76.9,502.9" fill="#000" stroke="none" stroke-width="0"/>
<text x="66.3" y="497.6" transform="rotate(.03 66.3 497.6)" text-anchor="end">See Ground</text>
<text x="66.3" y="505.4" transform="rotate(.03 66.3 505.4)" text-anchor="end">Distribution</text>
<text x="66.3" y="513.3" transform="rotate(.03 66.3 513.3)" text-anchor="end">(SD130-3)</text>
<text x="97.7" y="493" transform="rotate(.03 97.7 493)" font-weight="700" fill="#000">JOINT</text>
<text x="97.7" y="500.4" transform="rotate(.03 97.7 500.4)" font-weight="700" fill="#000">CONNECTOR</text>
<rect x="98.9" y="503.9" width="29.2" height="16.2" fill="#fff" stroke="#3a3a3a" stroke-width="0.8"/>
<text x="100.9" y="511.1" transform="rotate(.03 100.9 511.1)" font-weight="700" font-size="7.45" fill="#000">P.117</text>
<text x="100.9" y="518.65" transform="rotate(.03 100.9 518.65)" font-weight="700" font-size="7.45" fill="#000">C.83-14</text>
<text x="79.7" y="528.2" transform="rotate(.03 79.7 528.2)" text-anchor="end" font-size="7.7">1</text>
<text x="87.5" y="528.2" transform="rotate(.03 87.5 528.2)" font-weight="700" fill="#000">JM21</text>
<text x="79.4" y="541.5" transform="rotate(.03 79.4 541.5)" text-anchor="end" font-size="7.7">2.0B</text>
<text x="77.4" y="556.8" transform="rotate(.03 77.4 556.8)" text-anchor="end" font-size="7.7">2</text>
<text x="88.8" y="556.8" transform="rotate(.03 88.8 556.8)" font-weight="700" fill="#000">MM11</text>
<rect x="90" y="559.7" width="21.6" height="8.8" fill="#fff" stroke="#3a3a3a" stroke-width="0.8"/>
<text x="91.6" y="566.9" transform="rotate(.03 91.6 566.9)" font-weight="700" font-size="7.45" fill="#000">P.113</text>
<text x="79.4" y="570.1" transform="rotate(.03 79.4 570.1)" text-anchor="end" font-size="7.7">2.0B</text>
<circle cx="83.4" cy="581.6" r="5" fill="#000"/>
<circle cx="83.4" cy="581.6" r="3.7" fill="#fff"/>
<circle cx="83.4" cy="581.6" r="2.5" fill="#000"/>
<line x1="76.4" y1="586.4" x2="90.4" y2="586.4" stroke="#111" stroke-width="1.2" />
<line x1="79.1" y1="589.8" x2="87.7" y2="589.8" stroke="#111" stroke-width="0.9" />
<line x1="81.6" y1="593.2" x2="85.2" y2="593.2" stroke="#111" stroke-width="0.9" />
<text x="74" y="603.2" transform="rotate(.03 74 603.2)" font-weight="700" fill="#000">GM06</text>
<rect x="96.8" y="596.2" width="19.6" height="9" fill="#fff" stroke="#3a3a3a" stroke-width="0.8"/>
<text x="99" y="603.4" transform="rotate(.03 99 603.4)" font-weight="700" font-size="7.45" fill="#000">P.78</text>
<rect x="131.8" y="462.9" width="59" height="17.8" fill="#cbebf4"/>
<rect x="203" y="462.9" width="58.6" height="17.8" fill="#cbebf4"/>
<text x="188.9" y="470.5" transform="rotate(.03 188.9 470.5)" text-anchor="end">With Electric</text>
<text x="188.9" y="478.1" transform="rotate(.03 188.9 478.1)" text-anchor="end">ATM Shift Lever</text>
<text x="205" y="470.5" transform="rotate(.03 205 470.5)">W/O Electric</text>
<text x="205" y="478.1" transform="rotate(.03 205 478.1)">ATM Shift Lever</text>
<rect x="193.3" y="461.6" width="7.2" height="82.9" fill="#15152a"/>
<rect x="193.95" y="461.6" width="5.9" height="82.9" fill="#fff500"/>
<rect x="196.15" y="461.6" width="1.5" height="82.9" fill="#ff7a10"/>
<text x="190.7" y="492.8" transform="rotate(.03 190.7 492.8)" text-anchor="end" font-size="7.7">1</text>
<text x="193.2" y="512.4" transform="rotate(.03 193.2 512.4)" text-anchor="end" font-size="7.7">0.3Y/O</text>
<text x="192.2" y="530" transform="rotate(.03 192.2 530)" text-anchor="end" font-size="7.7">37</text>
<text x="192.2" y="537.7" transform="rotate(.03 192.2 537.7)" text-anchor="end" font-size="7.7">25</text>
<line x1="203.6" y1="540.2" x2="446.5" y2="540.2" stroke="#3a3a3a" stroke-width="0.85" stroke-dasharray="4.5 3.5"/>
<line x1="454.5" y1="540.2" x2="635" y2="540.2" stroke="#3a3a3a" stroke-width="0.85" stroke-dasharray="4.5 3.5"/>
<line x1="643" y1="540.2" x2="675" y2="540.2" stroke="#3a3a3a" stroke-width="0.85" stroke-dasharray="4.5 3.5"/>
<text x="658" y="458.8" transform="rotate(.03 658 458.8)" text-anchor="middle">See Data</text>
<text x="658" y="466.2" transform="rotate(.03 658 466.2)" text-anchor="middle">Link Details</text>
<text x="658" y="473.7" transform="rotate(.03 658 473.7)" text-anchor="middle">(SD200-6)</text>
<polyline points="630.8,484.2 635.4,480.6 653,480.6 658,477 663,480.6 680.2,480.6 684.8,484.2" fill="none" stroke="#161616" stroke-width="0.8" />
<polygon points="634.9,491.1 643.7,491.1 639.3,484.4" fill="#000" stroke="none" stroke-width="0"/>
<polygon points="674.1,491.1 682.9,491.1 678.5,484.4" fill="#000" stroke="none" stroke-width="0"/>
<rect x="635.9" y="492.6" width="6.8" height="51.9" fill="#ff7f00"/>
<rect x="675.1" y="492.6" width="6.8" height="51.9" fill="#00843c"/>
<text x="634.8" y="512.9" transform="rotate(.03 634.8 512.9)" text-anchor="end" font-size="7.7">0.3O</text>
<text x="673.6" y="512.9" transform="rotate(.03 673.6 512.9)" text-anchor="end" font-size="7.7">0.3G</text>
<text x="634.8" y="530.2" transform="rotate(.03 634.8 530.2)" text-anchor="end" font-size="7.7">26</text>
<text x="634.8" y="537.8" transform="rotate(.03 634.8 537.8)" text-anchor="end" font-size="7.7">14</text>
<text x="673.6" y="530.2" transform="rotate(.03 673.6 530.2)" text-anchor="end" font-size="7.7">14</text>
<text x="673.6" y="537.8" transform="rotate(.03 673.6 537.8)" text-anchor="end" font-size="7.7">15</text>
<text x="682.4" y="530.2" transform="rotate(.03 682.4 530.2)" font-weight="700" fill="#000">E09</text>
<text x="696.4" y="530.2" transform="rotate(.03 696.4 530.2)" font-size="7.3">(Standard)</text>
<text x="682.4" y="537.8" transform="rotate(.03 682.4 537.8)" font-weight="700" fill="#000">E10</text>
<text x="696.4" y="537.8" transform="rotate(.03 696.4 537.8)" font-size="7.3">(Premium)</text>
<rect x="158.1" y="544.6" width="569.6" height="59.7" fill="#cbebf4" stroke="#111" stroke-width="1.55"/>
<rect x="169.3" y="555.7" width="529.5" height="37.7" fill="#cbebf4" stroke="#111" stroke-width="1.45"/>
<line x1="196.9" y1="544.6" x2="196.9" y2="555.5" stroke="#161616" stroke-width="0.9" />
<line x1="450.4" y1="544.6" x2="450.4" y2="555.5" stroke="#161616" stroke-width="0.9" />
<line x1="639.3" y1="544.6" x2="639.3" y2="555.5" stroke="#161616" stroke-width="0.9" />
<line x1="678.5" y1="544.6" x2="678.5" y2="555.5" stroke="#161616" stroke-width="0.9" />
<text x="196.8" y="564.8" transform="rotate(.03 196.8 564.8)" text-anchor="middle">AUTO</text>
<text x="196.8" y="572.7" transform="rotate(.03 196.8 572.7)" text-anchor="middle">HOLD</text>
<text x="196.8" y="580.6" transform="rotate(.03 196.8 580.6)" text-anchor="middle">Switch</text>
<text x="450.5" y="564.8" transform="rotate(.03 450.5 564.8)" text-anchor="middle">ESP</text>
<text x="450.5" y="572.7" transform="rotate(.03 450.5 572.7)" text-anchor="middle">ON/OFF</text>
<text x="450.5" y="580.6" transform="rotate(.03 450.5 580.6)" text-anchor="middle">Switch</text>
<text x="639.3" y="564.9" transform="rotate(.03 639.3 564.9)" text-anchor="middle">High</text>
<text x="678.4" y="564.9" transform="rotate(.03 678.4 564.9)" text-anchor="middle">Low</text>
<polyline points="625.2,563.8 629.8,567.2 654.4,567.2 659.4,570.6 664.4,567.2 686.2,567.2 690.8,563.8" fill="none" stroke="#161616" stroke-width="0.8" />
<text x="660.2" y="578.6" transform="rotate(.03 660.2 578.6)" text-anchor="middle">C-CAN</text>
<text x="701.4" y="560.6" transform="rotate(.03 701.4 560.6)" font-weight="700" fill="#000">ESP</text>
<text x="701.4" y="568.1" transform="rotate(.03 701.4 568.1)" font-weight="700" fill="#000">UNIT</text>
<text x="730.3" y="549.8" transform="rotate(.03 730.3 549.8)" font-weight="700" fill="#000">ESP</text>
<text x="730.3" y="557.3" transform="rotate(.03 730.3 557.3)" font-weight="700" fill="#000">CONTROL</text>
<text x="730.3" y="564.8" transform="rotate(.03 730.3 564.8)" font-weight="700" fill="#000">MODULE</text>
<rect x="731" y="567.5" width="31.6" height="16.6" fill="#fff" stroke="#3a3a3a" stroke-width="0.8"/>
<text x="733" y="574.7" transform="rotate(.03 733 574.7)" font-weight="700" font-size="7.45" fill="#000">P.15</text>
<text x="733" y="582.25" transform="rotate(.03 733 582.25)" font-weight="700" font-size="7.45" fill="#000">C.20-3/4</text>
<polygon points="136.3,185 143.7,185 143.7,185.9 140,189.7 136.3,185.9" fill="#fff" stroke="none" stroke-width="0"/>
<polyline points="136.5,185.9 140,189.3 143.5,185.9" fill="none" stroke="#111" stroke-width="1.1" />
<polyline points="135.7,180.9 140,184.9 144.3,180.9" fill="none" stroke="#161616" stroke-width="0.9" />
<polygon points="446.5,185 453.9,185 453.9,185.9 450.2,189.7 446.5,185.9" fill="#fff" stroke="none" stroke-width="0"/>
<polyline points="446.7,185.9 450.2,189.3 453.7,185.9" fill="none" stroke="#111" stroke-width="1.1" />
<polyline points="445.9,180.9 450.2,184.9 454.5,180.9" fill="none" stroke="#161616" stroke-width="0.9" />
<polygon points="580.1,185 587.5,185 587.5,185.9 583.8,189.7 580.1,185.9" fill="#fff" stroke="none" stroke-width="0"/>
<polyline points="580.3,185.9 583.8,189.3 587.3,185.9" fill="none" stroke="#111" stroke-width="1.1" />
<polyline points="579.5,180.9 583.8,184.9 588.1,180.9" fill="none" stroke="#161616" stroke-width="0.9" />
<polygon points="612.3,185 619.7,185 619.7,185.9 616,189.7 612.3,185.9" fill="#fff" stroke="none" stroke-width="0"/>
<polyline points="612.5,185.9 616,189.3 619.5,185.9" fill="none" stroke="#333" stroke-width="1.1" />
<polyline points="611.7,180.9 616,184.9 620.3,180.9" fill="none" stroke="#161616" stroke-width="0.9" />
<polygon points="665.9,185 673.3,185 673.3,185.9 669.6,189.7 665.9,185.9" fill="#fff" stroke="none" stroke-width="0"/>
<polyline points="666.1,185.9 669.6,189.3 673.1,185.9" fill="none" stroke="#111" stroke-width="1.1" />
<polyline points="665.3,180.9 669.6,184.9 673.9,180.9" fill="none" stroke="#161616" stroke-width="0.9" />
<polygon points="135.6,232.3 140.2,228 144.8,232.3 144.8,236.7 140.2,232.4 135.6,236.7" fill="#fff" stroke="none" stroke-width="0"/>
<polyline points="135.9,232.2 140.2,228 144.5,232.2" fill="none" stroke="#000" stroke-width="1.05" />
<polyline points="135.9,236.6 140.2,232.4 144.5,236.6" fill="none" stroke="#000" stroke-width="1.05" />
<polygon points="35.4,270.6 42.8,270.6 39.1,275.7" fill="#fff" stroke="none" stroke-width="0"/>
<polygon points="302.6,234.7 310,234.7 306.3,239.8" fill="#fff" stroke="none" stroke-width="0"/>
<polygon points="403.3,234.7 410.7,234.7 407,239.8" fill="#fff" stroke="none" stroke-width="0"/>
<polygon points="35.4,306.2 42.8,306.2 42.8,305.3 39.1,301.5 35.4,305.3" fill="#fff" stroke="none" stroke-width="0"/>
<polyline points="35.6,305.3 39.1,301.9 42.6,305.3" fill="none" stroke="#111" stroke-width="1.1" />
<polyline points="34.8,310.3 39.1,306.3 43.4,310.3" fill="none" stroke="#161616" stroke-width="0.9" />
<polygon points="136.6,306.2 144,306.2 144,305.3 140.3,301.5 136.6,305.3" fill="#fff" stroke="none" stroke-width="0"/>
<polyline points="136.8,305.3 140.3,301.9 143.8,305.3" fill="none" stroke="#111" stroke-width="1.1" />
<polyline points="136,310.3 140.3,306.3 144.6,310.3" fill="none" stroke="#161616" stroke-width="0.9" />
<polygon points="35.4,385.4 42.8,385.4 42.8,386.3 39.1,390.1 35.4,386.3" fill="#fff" stroke="none" stroke-width="0"/>
<polyline points="35.6,386.3 39.1,389.7 42.6,386.3" fill="none" stroke="#111" stroke-width="1.1" />
<polyline points="34.8,381.3 39.1,385.3 43.4,381.3" fill="none" stroke="#161616" stroke-width="0.9" />
<polygon points="79.7,385.4 87.1,385.4 87.1,386.3 83.4,390.1 79.7,386.3" fill="#fff" stroke="none" stroke-width="0"/>
<polyline points="79.9,386.3 83.4,389.7 86.9,386.3" fill="none" stroke="#111" stroke-width="1.1" />
<polyline points="79.1,381.3 83.4,385.3 87.7,381.3" fill="none" stroke="#161616" stroke-width="0.9" />
<polygon points="136.7,385.4 144.1,385.4 144.1,386.3 140.4,390.1 136.7,386.3" fill="#fff" stroke="none" stroke-width="0"/>
<polyline points="136.9,386.3 140.4,389.7 143.9,386.3" fill="none" stroke="#111" stroke-width="1.1" />
<polyline points="136.1,381.3 140.4,385.3 144.7,381.3" fill="none" stroke="#161616" stroke-width="0.9" />
<polygon points="135.8,421.2 140.4,425.5 145,421.2 145,425.6 140.4,429.9 135.8,425.6" fill="#fff" stroke="none" stroke-width="0"/>
<polyline points="136.1,421.2 140.4,425.4 144.7,421.2" fill="none" stroke="#000" stroke-width="1.05" />
<polyline points="136.1,425.6 140.4,429.8 144.7,425.6" fill="none" stroke="#000" stroke-width="1.05" />
<polygon points="242,259.6 246.6,263.9 251.2,259.6 251.2,264 246.6,268.3 242,264" fill="#fff" stroke="none" stroke-width="0"/>
<polyline points="242.3,259.6 246.6,263.8 250.9,259.6" fill="none" stroke="#000" stroke-width="1.05" />
<polyline points="242.3,264 246.6,268.2 250.9,264" fill="none" stroke="#000" stroke-width="1.05" />
<polygon points="301.7,259.6 306.3,263.9 310.9,259.6 310.9,264 306.3,268.3 301.7,264" fill="#fff" stroke="none" stroke-width="0"/>
<polyline points="302,259.6 306.3,263.8 310.6,259.6" fill="none" stroke="#000" stroke-width="1.05" />
<polyline points="302,264 306.3,268.2 310.6,264" fill="none" stroke="#000" stroke-width="1.05" />
<polygon points="242.9,306.2 250.3,306.2 250.3,305.3 246.6,301.5 242.9,305.3" fill="#fff" stroke="none" stroke-width="0"/>
<polyline points="243.1,305.3 246.6,301.9 250.1,305.3" fill="none" stroke="#111" stroke-width="1.1" />
<polyline points="242.3,310.3 246.6,306.3 250.9,310.3" fill="none" stroke="#161616" stroke-width="0.9" />
<polygon points="302.6,306.2 310,306.2 310,305.3 306.3,301.5 302.6,305.3" fill="#fff" stroke="none" stroke-width="0"/>
<polyline points="302.8,305.3 306.3,301.9 309.8,305.3" fill="none" stroke="#111" stroke-width="1.1" />
<polyline points="302,310.3 306.3,306.3 310.6,310.3" fill="none" stroke="#161616" stroke-width="0.9" />
<polygon points="248.9,370.5 256.3,370.5 256.3,371.4 252.6,375.2 248.9,371.4" fill="#fff" stroke="none" stroke-width="0"/>
<polyline points="249.1,371.4 252.6,374.8 256.1,371.4" fill="none" stroke="#111" stroke-width="1.1" />
<polyline points="248.3,366.4 252.6,370.4 256.9,366.4" fill="none" stroke="#161616" stroke-width="0.9" />
<polygon points="302.6,370.5 310,370.5 310,371.4 306.3,375.2 302.6,371.4" fill="#fff" stroke="none" stroke-width="0"/>
<polyline points="302.8,371.4 306.3,374.8 309.8,371.4" fill="none" stroke="#111" stroke-width="1.1" />
<polyline points="302,366.4 306.3,370.4 310.6,366.4" fill="none" stroke="#161616" stroke-width="0.9" />
<polygon points="248,416.7 252.6,412.4 257.2,416.7 257.2,421.1 252.6,416.8 248,421.1" fill="#fff" stroke="none" stroke-width="0"/>
<polyline points="248.3,416.6 252.6,412.4 256.9,416.6" fill="none" stroke="#000" stroke-width="1.05" />
<polyline points="248.3,421 252.6,416.8 256.9,421" fill="none" stroke="#000" stroke-width="1.05" />
<polygon points="301.7,416.7 306.3,412.4 310.9,416.7 310.9,421.1 306.3,416.8 301.7,421.1" fill="#fff" stroke="none" stroke-width="0"/>
<polyline points="302,416.6 306.3,412.4 310.6,416.6" fill="none" stroke="#000" stroke-width="1.05" />
<polyline points="302,421 306.3,416.8 310.6,421" fill="none" stroke="#000" stroke-width="1.05" />
<polygon points="403.3,306.2 410.7,306.2 410.7,305.3 407,301.5 403.3,305.3" fill="#fff" stroke="none" stroke-width="0"/>
<polyline points="403.5,305.3 407,301.9 410.5,305.3" fill="none" stroke="#111" stroke-width="1.1" />
<polyline points="402.7,310.3 407,306.3 411.3,310.3" fill="none" stroke="#161616" stroke-width="0.9" />
<polygon points="446.7,306.2 454.1,306.2 454.1,305.3 450.4,301.5 446.7,305.3" fill="#fff" stroke="none" stroke-width="0"/>
<polyline points="446.9,305.3 450.4,301.9 453.9,305.3" fill="none" stroke="#111" stroke-width="1.1" />
<polyline points="446.1,310.3 450.4,306.3 454.7,310.3" fill="none" stroke="#161616" stroke-width="0.9" />
<polygon points="403.3,385.4 410.7,385.4 410.7,386.3 407,390.1 403.3,386.3" fill="#fff" stroke="none" stroke-width="0"/>
<polyline points="403.5,386.3 407,389.7 410.5,386.3" fill="none" stroke="#111" stroke-width="1.1" />
<polyline points="402.7,381.3 407,385.3 411.3,381.3" fill="none" stroke="#161616" stroke-width="0.9" />
<polygon points="446.7,385.4 454.1,385.4 454.1,386.3 450.4,390.1 446.7,386.3" fill="#fff" stroke="none" stroke-width="0"/>
<polyline points="446.9,386.3 450.4,389.7 453.9,386.3" fill="none" stroke="#111" stroke-width="1.1" />
<polyline points="446.1,381.3 450.4,385.3 454.7,381.3" fill="none" stroke="#161616" stroke-width="0.9" />
<polygon points="505.5,385.4 512.9,385.4 512.9,386.3 509.2,390.1 505.5,386.3" fill="#fff" stroke="none" stroke-width="0"/>
<polyline points="505.7,386.3 509.2,389.7 512.7,386.3" fill="none" stroke="#111" stroke-width="1.1" />
<polyline points="504.9,381.3 509.2,385.3 513.5,381.3" fill="none" stroke="#161616" stroke-width="0.9" />
<polygon points="445.8,491.5 450.4,487.2 455,491.5 455,495.9 450.4,491.6 445.8,495.9" fill="#fff" stroke="none" stroke-width="0"/>
<polyline points="446.1,491.4 450.4,487.2 454.7,491.4" fill="none" stroke="#000" stroke-width="1.05" />
<polyline points="446.1,495.8 450.4,491.6 454.7,495.8" fill="none" stroke="#000" stroke-width="1.05" />
<polygon points="505.5,431.9 512.9,431.9 512.9,431 509.2,427.2 505.5,431" fill="#fff" stroke="none" stroke-width="0"/>
<polyline points="505.7,431 509.2,427.6 512.7,431" fill="none" stroke="#111" stroke-width="1.1" />
<polyline points="504.9,436 509.2,432 513.5,436" fill="none" stroke="#161616" stroke-width="0.9" />
<polygon points="505.5,458.6 512.9,458.6 512.9,459.5 509.2,463.3 505.5,459.5" fill="#fff" stroke="none" stroke-width="0"/>
<polyline points="505.7,459.5 509.2,462.9 512.7,459.5" fill="none" stroke="#111" stroke-width="1.1" />
<polyline points="504.9,454.5 509.2,458.5 513.5,454.5" fill="none" stroke="#161616" stroke-width="0.9" />
<polygon points="665.9,248.6 673.3,248.6 673.3,247.7 669.6,243.9 665.9,247.7" fill="#fff" stroke="none" stroke-width="0"/>
<polyline points="666.1,247.7 669.6,244.3 673.1,247.7" fill="none" stroke="#111" stroke-width="1.1" />
<polyline points="665.3,252.7 669.6,248.7 673.9,252.7" fill="none" stroke="#161616" stroke-width="0.9" />
<polygon points="665.9,285.6 673.3,285.6 673.3,286.5 669.6,290.3 665.9,286.5" fill="#fff" stroke="none" stroke-width="0"/>
<polyline points="666.1,286.5 669.6,289.9 673.1,286.5" fill="none" stroke="#111" stroke-width="1.1" />
<polyline points="665.3,281.5 669.6,285.5 673.9,281.5" fill="none" stroke="#161616" stroke-width="0.9" />
<polygon points="665.9,334 673.3,334 673.3,333.1 669.6,329.3 665.9,333.1" fill="#fff" stroke="none" stroke-width="0"/>
<polyline points="666.1,333.1 669.6,329.7 673.1,333.1" fill="none" stroke="#111" stroke-width="1.1" />
<polyline points="665.3,338.1 669.6,334.1 673.9,338.1" fill="none" stroke="#161616" stroke-width="0.9" />
<polygon points="665.9,360.2 673.3,360.2 673.3,361.1 669.6,364.9 665.9,361.1" fill="#fff" stroke="none" stroke-width="0"/>
<polyline points="666.1,361.1 669.6,364.5 673.1,361.1" fill="none" stroke="#111" stroke-width="1.1" />
<polyline points="665.3,356.1 669.6,360.1 673.9,356.1" fill="none" stroke="#161616" stroke-width="0.9" />
<polygon points="79.7,488.4 87.1,488.4 87.1,487.5 83.4,483.7 79.7,487.5" fill="#fff" stroke="none" stroke-width="0"/>
<polyline points="79.9,487.5 83.4,484.1 86.9,487.5" fill="none" stroke="#111" stroke-width="1.1" />
<polyline points="79.1,492.5 83.4,488.5 87.7,492.5" fill="none" stroke="#161616" stroke-width="0.9" />
<polygon points="79.7,517.7 87.1,517.7 87.1,518.6 83.4,522.4 79.7,518.6" fill="#fff" stroke="none" stroke-width="0"/>
<polyline points="79.9,518.6 83.4,522 86.9,518.6" fill="none" stroke="#111" stroke-width="1.1" />
<polyline points="79.1,513.6 83.4,517.6 87.7,513.6" fill="none" stroke="#161616" stroke-width="0.9" />
<polygon points="78.8,549.6 83.4,553.9 88,549.6 88,554 83.4,558.3 78.8,554" fill="#fff" stroke="none" stroke-width="0"/>
<polyline points="79.1,549.6 83.4,553.8 87.7,549.6" fill="none" stroke="#000" stroke-width="1.05" />
<polyline points="79.1,554 83.4,558.2 87.7,554" fill="none" stroke="#000" stroke-width="1.05" />
<polygon points="193.2,461.1 200.6,461.1 196.9,466.2" fill="#fff" stroke="none" stroke-width="0"/>
<polyline points="131.4,456.8 135.2,460.5 192,460.5 196.5,465" fill="none" stroke="#161616" stroke-width="0.8" />
<polyline points="262.2,456.8 258.4,460.5 201.4,460.5 197.1,465" fill="none" stroke="#161616" stroke-width="0.8" />
<polygon points="192.3,490.7 196.9,486.4 201.5,490.7 201.5,495.1 196.9,490.8 192.3,495.1" fill="#fff" stroke="none" stroke-width="0"/>
<polyline points="192.6,490.6 196.9,486.4 201.2,490.6" fill="none" stroke="#000" stroke-width="1.05" />
<polyline points="192.6,495 196.9,490.8 201.2,495" fill="none" stroke="#000" stroke-width="1.05" />
<polygon points="193.2,544.6 200.6,544.6 200.6,543.7 196.9,539.9 193.2,543.7" fill="#fff" stroke="none" stroke-width="0"/>
<polyline points="193.4,543.7 196.9,540.3 200.4,543.7" fill="none" stroke="#111" stroke-width="1.1" />
<polyline points="192.6,548.7 196.9,544.7 201.2,548.7" fill="none" stroke="#161616" stroke-width="0.9" />
<polygon points="446.7,544.6 454.1,544.6 454.1,543.7 450.4,539.9 446.7,543.7" fill="#fff" stroke="none" stroke-width="0"/>
<polyline points="446.9,543.7 450.4,540.3 453.9,543.7" fill="none" stroke="#111" stroke-width="1.1" />
<polyline points="446.1,548.7 450.4,544.7 454.7,548.7" fill="none" stroke="#161616" stroke-width="0.9" />
<polygon points="635.6,544.6 643,544.6 643,543.7 639.3,539.9 635.6,543.7" fill="#fff" stroke="none" stroke-width="0"/>
<polyline points="635.8,543.7 639.3,540.3 642.8,543.7" fill="none" stroke="#111" stroke-width="1.1" />
<polyline points="635,548.7 639.3,544.7 643.6,548.7" fill="none" stroke="#161616" stroke-width="0.9" />
<polygon points="674.8,544.6 682.2,544.6 682.2,543.7 678.5,539.9 674.8,543.7" fill="#fff" stroke="none" stroke-width="0"/>
<polyline points="675,543.7 678.5,540.3 682,543.7" fill="none" stroke="#111" stroke-width="1.1" />
<polyline points="674.2,548.7 678.5,544.7 682.8,548.7" fill="none" stroke="#161616" stroke-width="0.9" />
</svg>
</body>
</html>
